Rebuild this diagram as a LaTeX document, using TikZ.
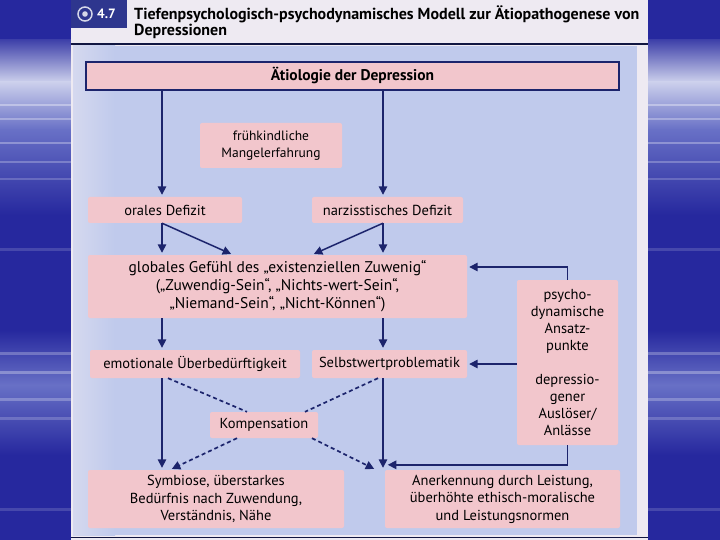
\documentclass[tikz,border=0pt]{standalone}
\usepackage{fontspec}
\setmainfont{PT Sans}
\usetikzlibrary{arrows.meta,positioning,calc}
\usepackage{xcolor}
\definecolor{slideblue}{RGB}{38,40,158}
\definecolor{cloud}{RGB}{204,208,236}
\definecolor{haze}{RGB}{104,112,198}
\definecolor{pagebg}{RGB}{192,202,236}
\definecolor{pagerim}{RGB}{238,234,242}
\definecolor{boxpink}{RGB}{242,198,204}
\definecolor{navy}{RGB}{28,36,108}
\definecolor{headblue}{RGB}{46,54,142}
\tikzset{
  box/.style  ={fill=boxpink,rounded corners=2pt,inner sep=0pt,align=center,
                text=black,font=\fontsize{14.5}{17.5}\selectfont},
  frame/.style={box,draw=navy,line width=1.6pt,rounded corners=0pt,
                font=\bfseries\fontsize{15.5}{17}\selectfont},
  arr/.style  ={draw=navy,line width=1.5pt,shorten >=2pt,
                -{Triangle[length=8.5pt,width=8.5pt]}},
  dsh/.style  ={arr,dash pattern=on 4pt off 3pt},
  dshln/.style={draw=navy,line width=1.7pt,dash pattern=on 4pt off 3pt},
  ttl/.style  ={anchor=west,inner sep=0pt,font=\bfseries\fontsize{16}{18}\selectfont},
}

\begin{document}
\begin{tikzpicture}[x=1pt,y=-1pt]
\useasboundingbox (0,0) rectangle (720,540);
% slide background
\fill[slideblue] (0,0) rectangle (720,540);
\shade[top color=slideblue!85!cloud,bottom color=cloud] (0,40) rectangle (720,82);
\shade[top color=cloud,bottom color=haze] (0,82) rectangle (720,130);
\shade[top color=haze,bottom color=slideblue] (0,130) rectangle (720,215);
\shade[top color=slideblue,bottom color=haze] (0,330) rectangle (720,385);
\shade[top color=haze,bottom color=slideblue] (0,385) rectangle (720,455);
\foreach \y/\o in {104/.35,118/.3,142/.3,161/.25,178/.2,248/.15,352/.25,371/.3,398/.25,417/.2,508/.15}
  \fill[white,opacity=\o] (0,\y) rectangle (720,\y+2.5);

% page and header
\fill[pagerim] (71,0) rectangle (648,540);
\fill[pagebg] (73,46) rectangle (637,535);
\shade[left color=pagebg!55!pagerim,right color=pagebg] (73,46) rectangle (115,535);
\fill[headblue] (71,0) rectangle (127,28);
\draw[white!80!headblue,line width=1.5pt] (85,14) circle (7);
\fill[white!80!headblue] (85,14) circle (2.8);
\node[ttl,text=white,font=\bfseries\fontsize{13.5}{15}\selectfont] (num) at (97,14) {4.7};
\node[ttl] (title) at (134,14) {Tiefenpsychologisch-psychodynamisches Modell zur Ätiopathogenese von};
\node[ttl] (title2) at (134,31) {Depressionen};
\draw[navy!60!black,line width=1.5pt] (71,44) -- (648,44);
\draw[navy!60!black,line width=1.5pt] (71,537.5) -- (648,537.5);

% boxes
\node[frame,minimum width=533pt,minimum height=28pt] (top) at (352.5,76) {Ätiologie der Depression};
\node[box,minimum width=142pt,minimum height=45pt,font=\fontsize{13.5}{16.5}\selectfont] (fruh) at (271,145.5) {frühkindliche\\Mangelerfahrung};
\node[box,minimum width=154pt,minimum height=26pt] (oral) at (165,210) {orales Defizit};
\node[box,minimum width=151pt,minimum height=26pt] (narz) at (387.5,210) {narzisstisches Defizit};
\node[box,minimum width=379pt,minimum height=63pt,font=\fontsize{15.5}{18}\selectfont] (glob) at (277.5,286.5)
  {globales Gefühl des „existenziellen Zuwenig“\\(„Zuwendig-Sein“, „Nichts-wert-Sein“,\\„Niemand-Sein“, „Nicht-Können“)};
\node[box,minimum width=210pt,minimum height=28pt] (emo) at (195,364) {emotionale Überbedürftigkeit};
\node[box,minimum width=155pt,minimum height=28pt] (selbst) at (389.5,364) {Selbstwertproblematik};
\node[box,minimum width=108pt,minimum height=26pt] (komp) at (264,425) {Kompensation};
\node[box,minimum width=256pt,minimum height=58pt] (sym) at (216,499)
  {Symbiose, überstarkes\\Bedürfnis nach Zuwendung,\\Verständnis, Nähe};
\node[box,minimum width=235pt,minimum height=58pt] (aner) at (502.5,499)
  {Anerkennung durch Leistung,\\überhöhte ethisch-moralische\\und Leistungsnormen};
\node[box,minimum width=101pt,minimum height=165pt,font=\fontsize{14.5}{17}\selectfont] (psy) at (567.5,362.5)
  {psycho-\\dynamische\\Ansatz-\\punkte\\[17pt]depressio-\\gener\\Auslöser/\\Anlässe};

% connectors
\coordinate (cl) at (162,0);
\coordinate (cr) at (383,0);
\coordinate (dl) at (233,0);
\coordinate (dr) at (312,0);
\coordinate (ea) at (168,0);
\coordinate (sa) at (378,0);
\coordinate (ka) at (247,0);
\coordinate (kb) at (305,0);
\coordinate (kc) at (237,0);
\coordinate (kd) at (312,0);
\coordinate (ya) at (170,0);
\coordinate (yb) at (376,0);
\coordinate (yg) at (0,267);
\draw[arr] (top.south -| cl) -- (oral.north -| cl);
\draw[arr] (top.south -| cr) -- (narz.north -| cr);
\draw[arr] (oral.south -| cl) -- (glob.north -| cl);
\draw[arr] (oral.south -| cl) -- (glob.north -| dl);
\draw[arr] (narz.south -| cr) -- (glob.north -| cr);
\draw[arr] (narz.south -| cr) -- (glob.north -| dr);
\draw[arr] (glob.south -| cl) -- (emo.north -| cl);
\draw[arr] (glob.south -| cr) -- (selbst.north -| cr);
\draw[arr] (emo.south -| cl) -- (sym.north -| cl);
\draw[arr] (selbst.south -| cr) -- (aner.north -| cr);
\draw[dshln] (emo.south -| ea) -- (komp.north -| ka);
\draw[dshln] (selbst.south -| sa) -- (komp.north -| kb);
\draw[dsh,line width=1.7pt] (komp.south -| kc) -- (sym.north -| ya);
\draw[dsh,line width=1.7pt] (komp.south -| kd) -- (aner.north -| yb);
\draw[arr] (psy.north) |- (glob.east |- yg);
\draw[arr] (psy.west |- selbst.east) -- (selbst.east);
\draw[arr] (psy.south) |- ($(aner.north west)+(1,-5)$);
\end{tikzpicture}
\end{document}
